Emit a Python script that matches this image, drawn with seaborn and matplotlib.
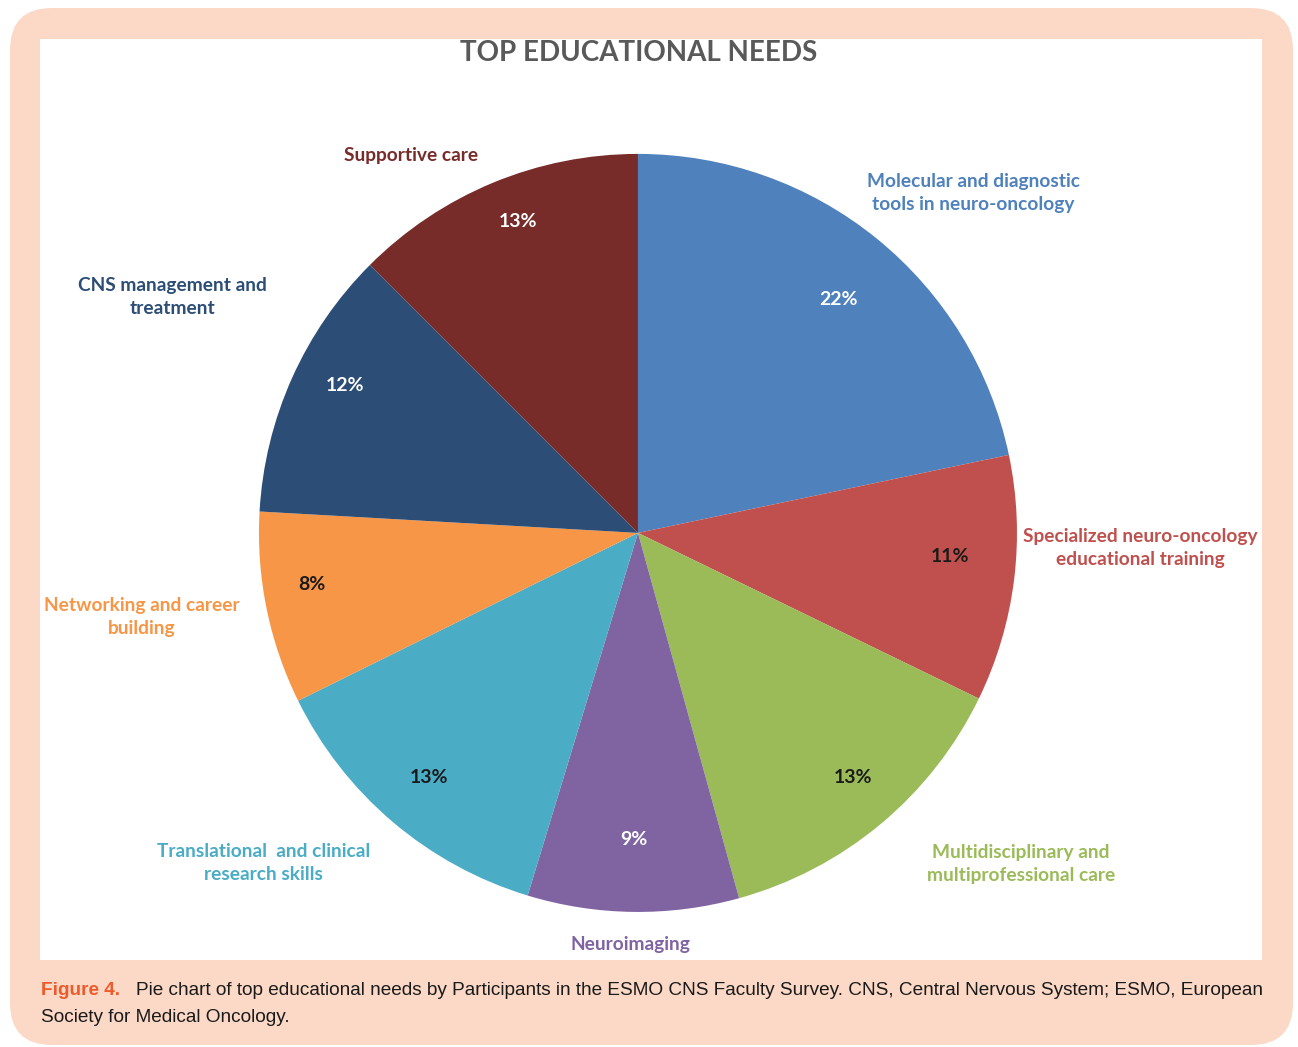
import matplotlib
matplotlib.use("Agg")
import matplotlib.pyplot as plt
from matplotlib.patches import FancyBboxPatch
import seaborn as sns

needs = ["Molecular and diagnostic\ntools in neuro-oncology",
         "Specialized neuro-oncology\neducational training",
         "Multidisciplinary and\nmultiprofessional care",
         "Neuroimaging",
         "Translational  and clinical\nresearch skills",
         "Networking and career\nbuilding",
         "CNS management and\ntreatment",
         "Supportive care"]
shares = [21.7, 10.5, 13.5, 9.0, 13.0, 8.2, 11.6, 12.5]
pct_labels = ["22%", "11%", "13%", "9%", "13%", "8%", "12%", "13%"]

# styling
slice_colors = ["#4F81BD", "#C0504D", "#9BBB59", "#8064A2",
                "#4BACC6", "#F79646", "#2C4D75", "#772C2A"]
pct_colors = ["white", "#1a1a1a", "#1a1a1a", "white",
              "#1a1a1a", "#1a1a1a", "white", "white"]
# label centres in pie-radius units
name_pos = [(0.884, 0.897), (1.325, -0.04), (1.01, -0.873), (-0.021, -1.087),
            (-0.987, -0.871), (-1.309, -0.222), (-1.227, 0.623), (-0.599, 0.997)]
pct_pos = [(0.528, 0.615), (0.823, -0.061), (0.567, -0.644), (-0.011, -0.81),
           (-0.551, -0.646), (-0.86, -0.137), (-0.773, 0.39), (-0.317, 0.821)]

sns.set_theme(style="white")
plt.rcParams["font.family"] = ["Lato", "DejaVu Sans"]

fig = plt.figure(figsize=(12.98, 10.47), dpi=100)
fig.patch.set_facecolor("white")

# peach frame and white panel
frame = FancyBboxPatch((0.10, 0.02), 12.83, 10.37,
                       boxstyle="round,pad=0,rounding_size=0.42",
                       transform=fig.dpi_scale_trans, facecolor="#FCD9C6",
                       edgecolor="none", zorder=0)
fig.patches.append(frame)
panel = FancyBboxPatch((0.40, 0.87), 12.22, 9.21, boxstyle="square,pad=0",
                       transform=fig.dpi_scale_trans, facecolor="white",
                       edgecolor="none", zorder=1)
fig.patches.append(panel)

ax = fig.add_axes([0.1995, 0.129, 0.584, 0.724])
ax.set_zorder(3)
ax.set_facecolor("none")
wedges, texts, autotexts = ax.pie(shares, colors=slice_colors, startangle=90,
                                  counterclock=False, radius=1,
                                  autopct="%1.0f%%", pctdistance=0.81,
                                  wedgeprops=dict(linewidth=0))
for t, lab, c, p in zip(autotexts, pct_labels, pct_colors, pct_pos):
    t.set_text(lab)
    t.set_position(p)
    t.set_color(c)
    t.set_fontsize(14)
    t.set_fontweight("bold")

for name, (x, y), c in zip(needs, name_pos, slice_colors):
    ax.text(x, y, name, ha="center", va="center", color=c,
            fontsize=13.8, fontweight="bold", linespacing=1.45)

ax.set_xlim(-1, 1)
ax.set_ylim(-1, 1)
ax.set_aspect("equal")
ax.axis("off")

fig.text(639 / 1298, 1 - 53 / 1047, "TOP EDUCATIONAL NEEDS", ha="center",
         va="center", fontsize=20, fontweight="bold", color="#595959",
         zorder=3)

cap_font = ["Liberation Sans", "DejaVu Sans"]
fig.text(41 / 1298, 1 - 995 / 1047, "Figure 4.", ha="left", va="baseline",
         fontsize=13.7, fontweight="bold", color="#EE5A2C", family=cap_font,
         zorder=3)
fig.text(136 / 1298, 1 - 995 / 1047,
         "Pie chart of top educational needs by Participants in the ESMO CNS "
         "Faculty Survey. CNS, Central Nervous System; ESMO, European",
         ha="left", va="baseline", fontsize=13.7, color="#1a1a1a",
         family=cap_font, zorder=3)
fig.text(41 / 1298, 1 - 1022 / 1047, "Society for Medical Oncology.",
         ha="left", va="baseline", fontsize=13.7, color="#1a1a1a",
         family=cap_font, zorder=3)

fig.savefig("out.png", dpi=100)
